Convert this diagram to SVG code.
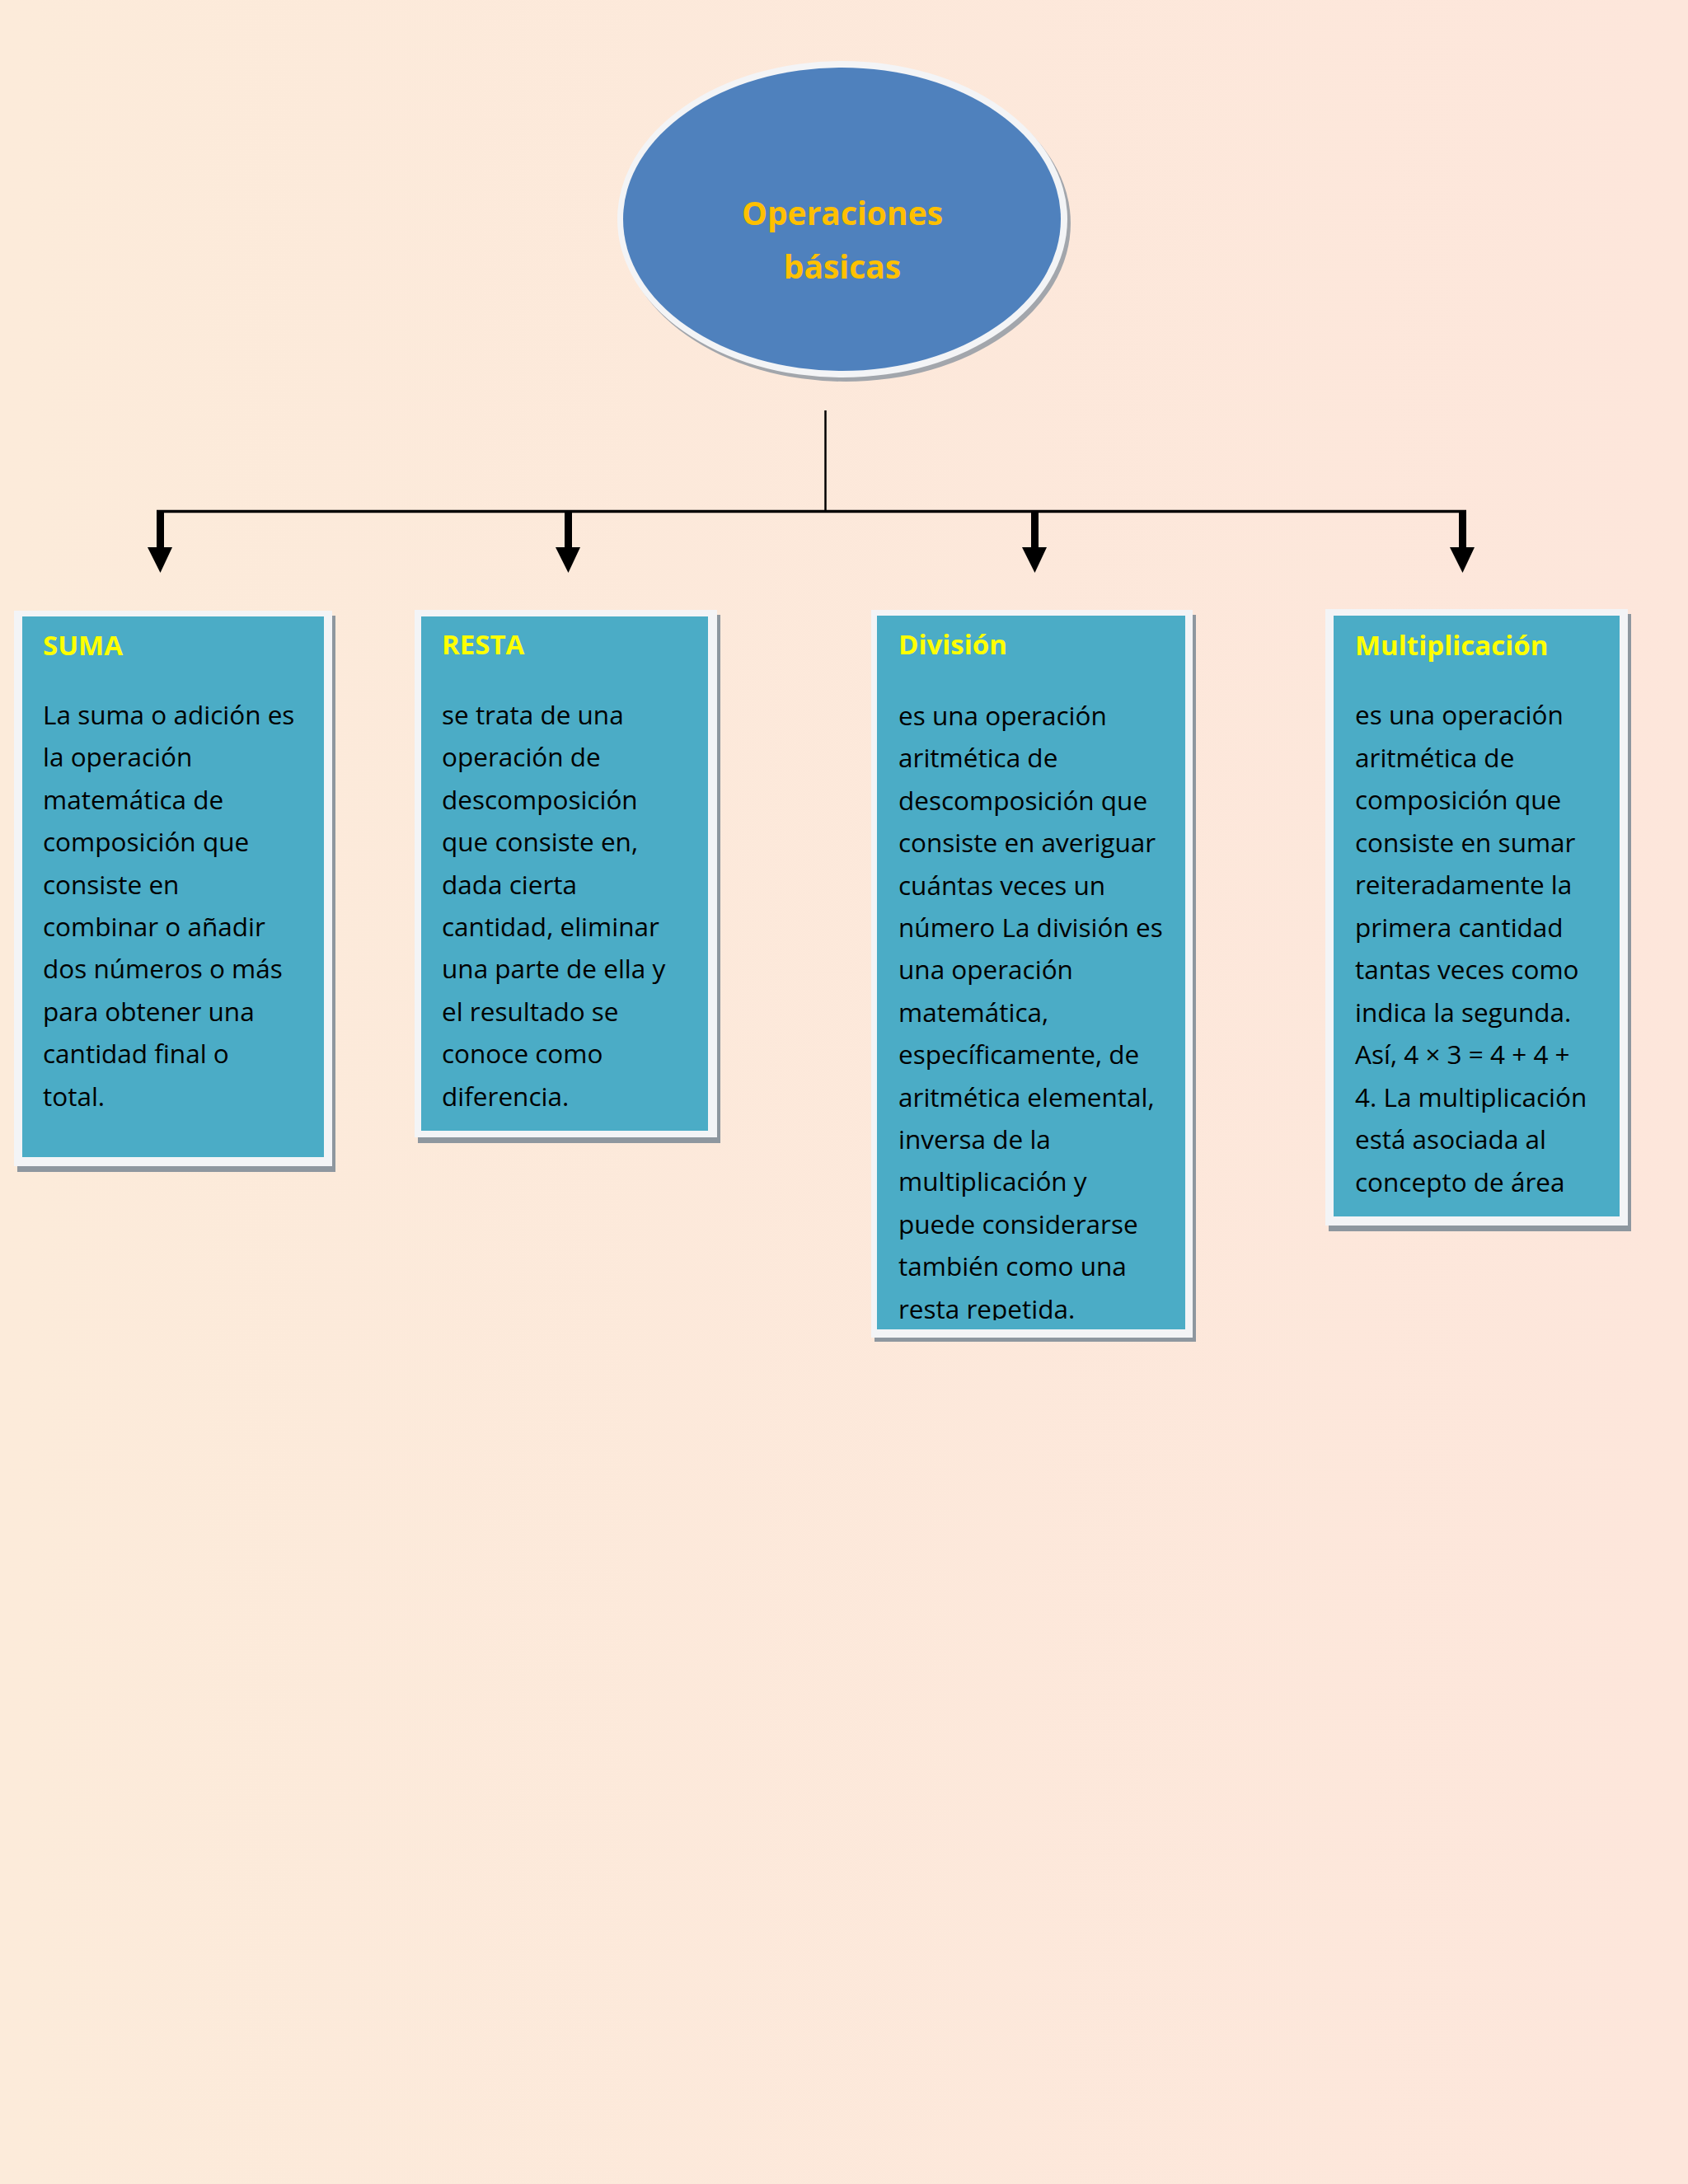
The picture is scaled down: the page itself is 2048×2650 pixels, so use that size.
<svg xmlns="http://www.w3.org/2000/svg" width="2048" height="2650" viewBox="0 0 2048 2650">
  <defs>
    <linearGradient id="bg" x1="0" y1="0" x2="1" y2="0">
      <stop offset="0" stop-color="#FCEBDA"/>
      <stop offset="1" stop-color="#FDE6DB"/>
    </linearGradient>
    <clipPath id="clipDiv">
      <rect x="1064" y="747" width="374" height="855"/>
    </clipPath>
    <style>
      .shadow { fill: #8E979F; }
      .frame { fill: #F3F4F6; }
      .card { fill: #4BACC6; }
      .head { font-family: "Open Sans", "Liberation Sans", sans-serif; font-weight: bold; font-size: 33px; fill: #FFFF00; }
      .body { font-family: "Open Sans", "Liberation Sans", sans-serif; font-size: 31.5px; fill: #000000; }
      .title { font-family: "Open Sans", "Liberation Sans", sans-serif; font-weight: bold; font-size: 39px; fill: #FFC000; text-anchor: middle; }
      .wire { stroke: #000000; fill: none; }
      .head-arrow { fill: #000000; }
    </style>
  </defs>

  <rect x="0" y="0" width="2048" height="2650" fill="url(#bg)"/>

  <g id="root">
    <ellipse cx="1026" cy="271" rx="273" ry="192" fill="#A2A6AC"/>
    <ellipse cx="1022" cy="266" rx="273" ry="192" fill="#F3F4F6"/>
    <ellipse cx="1021.5" cy="266" rx="265.5" ry="184" fill="#4F81BD"/>
    <text class="title" x="1022" y="273">Operaciones</text>
    <text class="title" x="1022" y="338">básicas</text>
  </g>

  <g id="connectors">
    <line class="wire" x1="1001.5" y1="498" x2="1001.5" y2="621" stroke-width="2.5"/>
    <line class="wire" x1="190" y1="620.5" x2="1779" y2="620.5" stroke-width="3.5"/>
    <rect class="head-arrow" x="190" y="619" width="9" height="47"/>
    <polygon class="head-arrow" points="179,664 209,664 194.5,695"/>
    <rect class="head-arrow" x="685" y="619" width="9" height="47"/>
    <polygon class="head-arrow" points="674,664 704,664 689.5,695"/>
    <rect class="head-arrow" x="1251" y="619" width="9" height="47"/>
    <polygon class="head-arrow" points="1240,664 1270,664 1255.5,695"/>
    <rect class="head-arrow" x="1770" y="619" width="9" height="47"/>
    <polygon class="head-arrow" points="1759,664 1789,664 1774.5,695"/>
  </g>

  <g id="suma">
    <rect class="shadow" x="21" y="747" width="386" height="675"/>
    <rect class="frame" x="17" y="741" width="386" height="674"/>
    <rect class="card" x="27" y="748" width="366" height="656"/>
    <text class="head" x="52" y="795">SUMA</text>
    <text class="body" x="52" y="879">
      <tspan x="52" y="879">La suma o adición es</tspan>
      <tspan x="52" dy="51.4">la operación</tspan>
      <tspan x="52" dy="51.4">matemática de</tspan>
      <tspan x="52" dy="51.4">composición que</tspan>
      <tspan x="52" dy="51.4">consiste en</tspan>
      <tspan x="52" dy="51.4">combinar o añadir</tspan>
      <tspan x="52" dy="51.4">dos números o más</tspan>
      <tspan x="52" dy="51.4">para obtener una</tspan>
      <tspan x="52" dy="51.4">cantidad final o</tspan>
      <tspan x="52" dy="51.4">total.</tspan>
    </text>
  </g>

  <g id="resta">
    <rect class="shadow" x="507" y="746" width="367" height="641"/>
    <rect class="frame" x="503" y="740" width="367" height="640"/>
    <rect class="card" x="511" y="748" width="348" height="624"/>
    <text class="head" x="536" y="794">RESTA</text>
    <text class="body" x="536" y="879">
      <tspan x="536" y="879">se trata de una</tspan>
      <tspan x="536" dy="51.4">operación de</tspan>
      <tspan x="536" dy="51.4">descomposición</tspan>
      <tspan x="536" dy="51.4">que consiste en,</tspan>
      <tspan x="536" dy="51.4">dada cierta</tspan>
      <tspan x="536" dy="51.4">cantidad, eliminar</tspan>
      <tspan x="536" dy="51.4">una parte de ella y</tspan>
      <tspan x="536" dy="51.4">el resultado se</tspan>
      <tspan x="536" dy="51.4">conoce como</tspan>
      <tspan x="536" dy="51.4">diferencia.</tspan>
    </text>
  </g>

  <g id="division">
    <rect class="shadow" x="1061" y="746" width="390" height="882"/>
    <rect class="frame" x="1057" y="740" width="390" height="883"/>
    <rect class="card" x="1064" y="747" width="374" height="866"/>
    <text class="head" x="1090" y="794">División</text>
    <text class="body" x="1090" y="880" clip-path="url(#clipDiv)">
      <tspan x="1090" y="880">es una operación</tspan>
      <tspan x="1090" dy="51.4">aritmética de</tspan>
      <tspan x="1090" dy="51.4">descomposición que</tspan>
      <tspan x="1090" dy="51.4">consiste en averiguar</tspan>
      <tspan x="1090" dy="51.4">cuántas veces un</tspan>
      <tspan x="1090" dy="51.4">número La división es</tspan>
      <tspan x="1090" dy="51.4">una operación</tspan>
      <tspan x="1090" dy="51.4">matemática,</tspan>
      <tspan x="1090" dy="51.4">específicamente, de</tspan>
      <tspan x="1090" dy="51.4">aritmética elemental,</tspan>
      <tspan x="1090" dy="51.4">inversa de la</tspan>
      <tspan x="1090" dy="51.4">multiplicación y</tspan>
      <tspan x="1090" dy="51.4">puede considerarse</tspan>
      <tspan x="1090" dy="51.4">también como una</tspan>
      <tspan x="1090" dy="51.4">resta repetida.</tspan>
    </text>
  </g>

  <g id="multiplicacion">
    <rect class="shadow" x="1612" y="745" width="367" height="749"/>
    <rect class="frame" x="1608" y="739" width="367" height="748"/>
    <rect class="card" x="1618" y="747" width="347" height="729"/>
    <text class="head" x="1644" y="795">Multiplicación</text>
    <text class="body" x="1644" y="879">
      <tspan x="1644" y="879">es una operación</tspan>
      <tspan x="1644" dy="51.5">aritmética de</tspan>
      <tspan x="1644" dy="51.5">composición que</tspan>
      <tspan x="1644" dy="51.5">consiste en sumar</tspan>
      <tspan x="1644" dy="51.5">reiteradamente la</tspan>
      <tspan x="1644" dy="51.5">primera cantidad</tspan>
      <tspan x="1644" dy="51.5">tantas veces como</tspan>
      <tspan x="1644" dy="51.5">indica la segunda.</tspan>
      <tspan x="1644" dy="51.5">Así, 4 × 3 = 4 + 4 +</tspan>
      <tspan x="1644" dy="51.5">4. La multiplicación</tspan>
      <tspan x="1644" dy="51.5">está asociada al</tspan>
      <tspan x="1644" dy="51.5">concepto de área</tspan>
    </text>
  </g>
</svg>
